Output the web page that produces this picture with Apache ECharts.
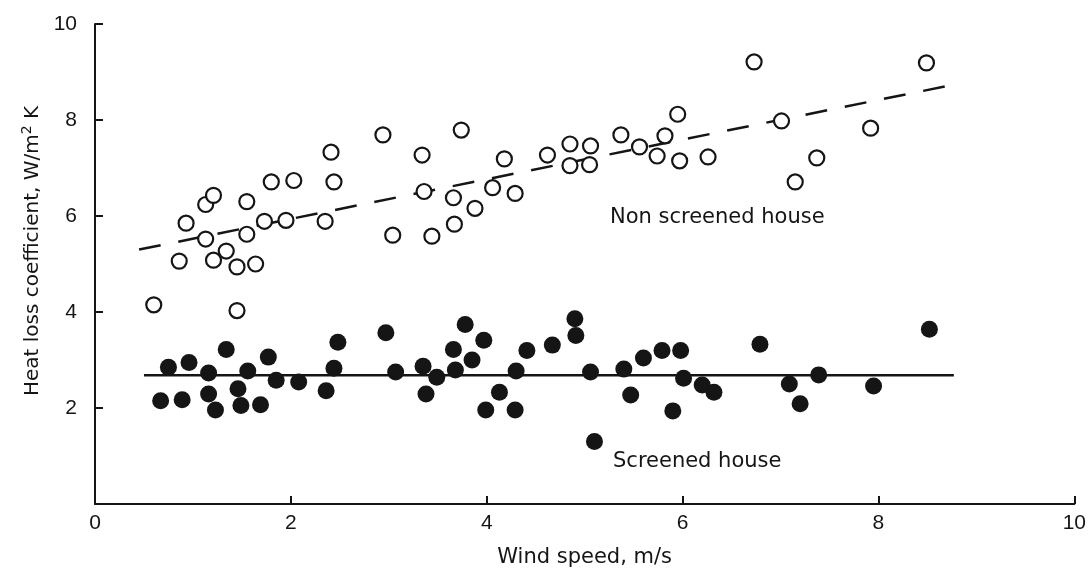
<!DOCTYPE html>
<html>
<head>
<meta charset="utf-8">
<script src="https://cdn.jsdelivr.net/npm/echarts@6/dist/echarts.min.js"></script>
<style>
  html, body { margin: 0; padding: 0; background: #fff; }
  #chart { width: 1089px; height: 573px; }
</style>
</head>
<body>
<div id="chart"></div>
<script>
// wind speed (m/s) / heat loss coefficient (W/m2 K)
const nonScreenedWind = [0.60, 0.86, 0.93, 1.13, 1.21, 1.13, 1.21, 1.34, 1.45, 1.45, 1.55, 1.55, 1.64, 1.73, 1.80, 1.95, 2.03, 2.35, 2.41, 2.44,
  2.94, 3.04, 3.34, 3.36, 3.44, 3.67, 3.66, 3.74, 3.88, 4.06, 4.18, 4.29, 4.62, 4.85, 5.06, 4.85, 5.05, 5.37, 5.56, 5.74,
  5.82, 5.95, 5.97, 6.26, 6.73, 7.01, 7.15, 7.37, 7.92, 8.49]
const nonScreenedCoef = [4.15, 5.06, 5.85, 6.24, 6.43, 5.52, 5.08, 5.27, 4.94, 4.03, 5.62, 6.30, 5.00, 5.89, 6.71, 5.91, 6.74, 5.89, 7.33, 6.71,
  7.69, 5.60, 7.27, 6.51, 5.58, 5.83, 6.38, 7.79, 6.16, 6.59, 7.19, 6.47, 7.27, 7.50, 7.46, 7.05, 7.07, 7.69, 7.44, 7.25,
  7.67, 8.12, 7.15, 7.23, 9.21, 7.98, 6.71, 7.21, 7.83, 9.19]

const screenedWind = [0.67, 0.75, 0.89, 0.96, 1.16, 1.16, 1.23, 1.34, 1.46, 1.49, 1.56, 1.69, 1.77, 1.85, 2.08, 2.36, 2.44, 2.48,
  2.97, 3.07, 3.35, 3.38, 3.49, 3.66, 3.68, 3.78, 3.85, 3.97, 3.99, 4.13, 4.29, 4.30, 4.41, 4.67, 4.90, 4.91,
  5.06, 5.10, 5.40, 5.47, 5.60, 5.79, 5.98, 6.01, 5.90, 6.20, 6.32, 6.79, 7.09, 7.20, 7.39, 7.95, 8.52]
const screenedCoef = [2.15, 2.85, 2.17, 2.95, 2.73, 2.29, 1.96, 3.22, 2.40, 2.05, 2.77, 2.07, 3.06, 2.58, 2.54, 2.36, 2.83, 3.37,
  3.57, 2.75, 2.87, 2.29, 2.64, 3.22, 2.79, 3.74, 3.00, 3.41, 1.96, 2.33, 1.96, 2.77, 3.20, 3.31, 3.86, 3.51,
  2.75, 1.30, 2.81, 2.27, 3.04, 3.20, 3.20, 2.62, 1.94, 2.48, 2.33, 3.33, 2.50, 2.09, 2.69, 2.46, 3.64]

// fitted lines (end points)
const nonScreenedFitX = [0.45, 8.73]
const nonScreenedFitY = [5.30, 8.72]
const screenedFitX = [0.50, 8.77]
const screenedFitY = [2.68, 2.68]

const xTicks = [0, 2, 4, 6, 8, 10]
const yTicks = [2, 4, 6, 8, 10]

const ink = '#151515'
const font = 'Liberation Sans'
const textFont = 'DejaVu Sans'

const zip = (xs, ys) => xs.map((x, i) => [x, ys[i]])

const chart = echarts.init(document.getElementById('chart'))
chart.setOption({
  backgroundColor: '#fff',
  animation: false,
  grid: { left: 95, right: 11, top: 24, bottom: 65 },
  xAxis: {
    type: 'value',
    min: 0, max: 10, interval: 2,
    name: 'Wind speed, m/s',
    nameLocation: 'middle',
    nameGap: 43,
    nameTextStyle: { color: ink, fontSize: 21, fontFamily: textFont },
    axisLine: { lineStyle: { color: ink, width: 2 } },
    axisTick: { inside: true, length: 8, lineStyle: { color: ink, width: 2 } },
    axisLabel: {
      color: ink, fontSize: 21, fontFamily: font, margin: 9,
      formatter: v => xTicks.includes(v) ? String(v) : ''
    },
    splitLine: { show: false }
  },
  yAxis: {
    type: 'value',
    min: 0, max: 10, interval: 2,
    name: 'Heat loss coefficient, W/m{sup|2} K',
    nameLocation: 'middle',
    nameGap: 48,
    nameTextStyle: {
      color: ink, fontSize: 20, fontFamily: textFont,
      padding: [0, 0, 0, 26],
      rich: { sup: { fontSize: 14, fontFamily: textFont, color: ink, verticalAlign: 'top', padding: [0, 0, 10, 0] } }
    },
    axisLine: { lineStyle: { color: ink, width: 2 } },
    axisTick: { inside: true, length: 8, lineStyle: { color: ink, width: 2 } },
    axisLabel: {
      color: ink, fontSize: 21, fontFamily: font, margin: 18,
      formatter: v => yTicks.includes(v) ? String(v) : ''
    },
    splitLine: { show: false }
  },
  series: [
    {
      name: 'Non screened fit',
      type: 'line',
      data: zip(nonScreenedFitX, nonScreenedFitY),
      symbol: 'none',
      lineStyle: { color: ink, width: 2.5, type: [22, 18] },
      z: 1
    },
    {
      name: 'Screened fit',
      type: 'line',
      data: zip(screenedFitX, screenedFitY),
      symbol: 'none',
      lineStyle: { color: ink, width: 2.5 },
      z: 1
    },
    {
      name: 'Non screened house',
      type: 'scatter',
      data: zip(nonScreenedWind, nonScreenedCoef),
      symbol: 'circle',
      symbolSize: 15,
      itemStyle: { color: '#fff', borderColor: ink, borderWidth: 2.2, opacity: 1 },
      z: 3
    },
    {
      name: 'Screened house',
      type: 'scatter',
      data: zip(screenedWind, screenedCoef),
      symbol: 'circle',
      symbolSize: 17,
      itemStyle: { color: ink, opacity: 1 },
      z: 3
    }
  ],
  graphic: [
    {
      type: 'text', left: 610, top: 207,
      style: { text: 'Non screened house', fill: ink, fontSize: 21, fontFamily: textFont }
    },
    {
      type: 'text', left: 613, top: 451,
      style: { text: 'Screened house', fill: ink, fontSize: 21, fontFamily: textFont }
    }
  ]
})
window.addEventListener('resize', () => chart.resize())
</script>
</body>
</html>
